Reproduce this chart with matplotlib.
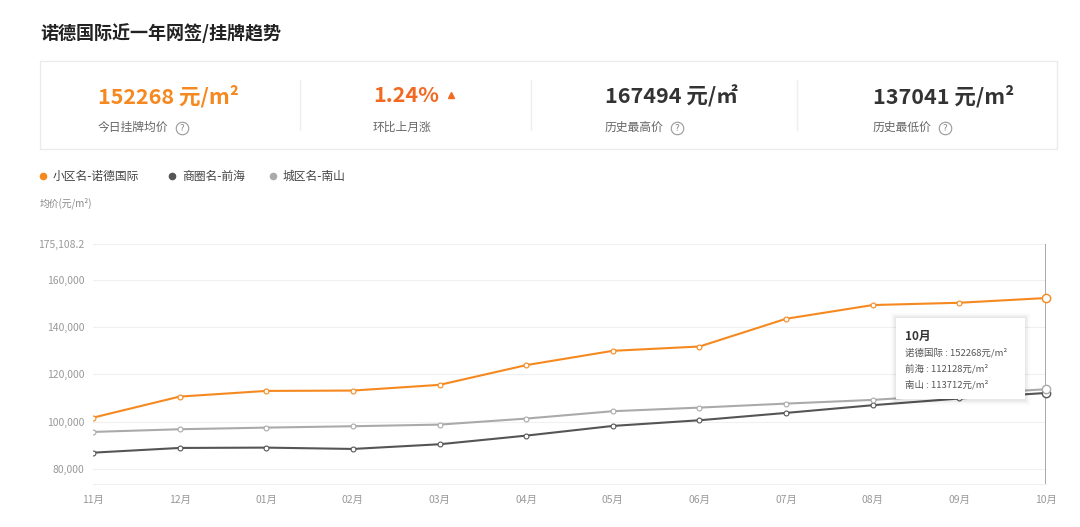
import matplotlib
matplotlib.use('Agg')
import matplotlib.pyplot as plt
from matplotlib.lines import Line2D
from matplotlib.patches import Rectangle, FancyBboxPatch

plt.rcParams['font.family'] = ['Noto Sans CJK SC', 'DejaVu Sans']

months = ['11月', '12月', '01月', '02月', '03月', '04月', '05月', '06月', '07月', '08月', '09月', '10月']
nuode = [101700, 110600, 113000, 113150, 115560, 123900, 129950, 131770, 143500, 149300, 150270, 152268]
qianhai = [86900, 88890, 89030, 88470, 90450, 94100, 98200, 100600, 103700, 106960, 109800, 112128]
nanshan = [95660, 96800, 97490, 98070, 98760, 101300, 104420, 105950, 107640, 109200, 111500, 113712]
series_names = ['小区名-诺德国际', '商圈名-前海', '城区名-南山']
tip_names = ['诺德国际', '前海', '南山']
yticks = [80000, 100000, 120000, 140000, 160000, 175108.2]
ymin = 73650

ORANGE = '#F5891F'
DARK = '#555555'
LIGHT = '#AAAAAA'
colors = [ORANGE, DARK, LIGHT]

W, H = 1080, 527
fig = plt.figure(figsize=(W / 100, H / 100), dpi=100)


def fx(px):
    return px / W


def fy(py):
    return 1 - py / H


# title
fig.text(fx(40), fy(33), '诺德国际近一年网签/挂牌趋势', fontsize=13, fontweight='bold',
         color='#222222', va='center', ha='left')

# summary card
fig.add_artist(Rectangle((fx(40), fy(149)), fx(1057) - fx(40), fy(61) - fy(149),
                         transform=fig.transFigure, fill=False, ec='#EBEBEB', lw=1))
for xd in [300, 531, 797]:
    fig.add_artist(Line2D([fx(xd), fx(xd)], [fy(80), fy(130)], transform=fig.transFigure,
                          color='#EFEFEF', lw=1))


def help_icon(x, y):
    fig.add_artist(Line2D([fx(x)], [fy(y)], transform=fig.transFigure, marker='o',
                          markersize=9, mfc='none', mec='#999999', mew=0.8))
    fig.text(fx(x), fy(y + 0.5), '?', fontsize=6.5, color='#888888', ha='center', va='center',
             family='DejaVu Sans')


cards = [
    (98, '152268 元/m²', ORANGE, '今日挂牌均价', True),
    (373, '1.24%', '#F26A22', '环比上月涨', False),
    (605, '167494 元/㎡', '#333333', '历史最高价', True),
    (873, '137041 元/m²', '#333333', '历史最低价', True),
]
for x0, big, col, small, icon in cards:
    fig.text(fx(x0), fy(96), big, fontsize=15.5, fontweight='bold', color=col,
             ha='left', va='center')
    fig.text(fx(x0), fy(127), small, fontsize=8.5, color='#666666', ha='left', va='center')
    if icon:
        help_icon(x0 + len(small) * 12 + 12, 128)
fig.add_artist(Line2D([fx(451)], [fy(95)], transform=fig.transFigure, marker='^',
                      markersize=5, color='#F26A22', ls='none'))

# legend
leg_x = [43, 172, 273]
for lx, name, c in zip(leg_x, series_names, colors):
    fig.add_artist(Line2D([fx(lx)], [fy(176)], transform=fig.transFigure, marker='o',
                          markersize=4.5, color=c, ls='none'))
    fig.text(fx(lx + 10), fy(176), name, fontsize=8.5, color='#444444', ha='left', va='center')
fig.text(fx(40), fy(203), '均价(元/m²)', fontsize=7, color='#888888', ha='left', va='center')

# chart
ax = fig.add_axes([fx(93), fy(484), fx(1046) - fx(93), fy(244) - fy(484)])
x = list(range(len(months)))
for vals, c in zip([nuode, qianhai, nanshan], colors):
    ax.plot(x, vals, color=c, lw=1.5, marker='o', markersize=3.5, mfc='white',
            mec=c, mew=0.8, zorder=3)
    ax.plot([x[-1]], [vals[-1]], marker='o', markersize=6, mfc='white', mec=c, mew=1,
            zorder=4, clip_on=False)
ax.axvline(x[-1], color='#999999', lw=1.2, zorder=2)
ax.set_xlim(0, len(months) - 1)
ax.set_ylim(ymin, yticks[-1])
ax.set_yticks(yticks)
ax.set_yticklabels(['{:,.0f}'.format(v) if v == int(v) else '{:,.1f}'.format(v) for v in yticks])
ax.set_xticks(x)
ax.set_xticklabels(months)
ax.tick_params(axis='both', length=0, colors='#999999', labelsize=7.5)
ax.tick_params(axis='y', pad=6)
ax.tick_params(axis='x', pad=8)
ax.grid(axis='y', color='#F0F0F0', lw=0.8)
ax.set_axisbelow(True)
for s in ['left', 'right', 'top']:
    ax.spines[s].set_visible(False)
ax.spines['bottom'].set_color('#F0F0F0')

# tooltip
for off, alpha in [(5, 0.02), (3, 0.03), (1.5, 0.04)]:
    fig.add_artist(FancyBboxPatch((fx(896 - off), fy(400 + off)), fx(129 + 2 * off),
                                  fy(318) - fy(400) + 2 * off / H, boxstyle='round,pad=0',
                                  transform=fig.transFigure, fc='black', ec='none',
                                  alpha=alpha, zorder=9))
fig.add_artist(Rectangle((fx(896), fy(399)), fx(1025 - 896), fy(318) - fy(399),
                         transform=fig.transFigure, fc='white', ec='none', zorder=10))
fig.text(fx(905), fy(336), months[-1], fontsize=8.5, fontweight='bold', color='#333333',
         ha='left', va='center', zorder=11)
for i, (nm, vals) in enumerate(zip(tip_names, [nuode, qianhai, nanshan])):
    fig.text(fx(905), fy(353 + 16 * i), '{} : {}元/m²'.format(nm, vals[-1]), fontsize=6.8,
             color='#555555', ha='left', va='center', zorder=11)

fig.savefig('out.png', dpi=100, facecolor='white')
